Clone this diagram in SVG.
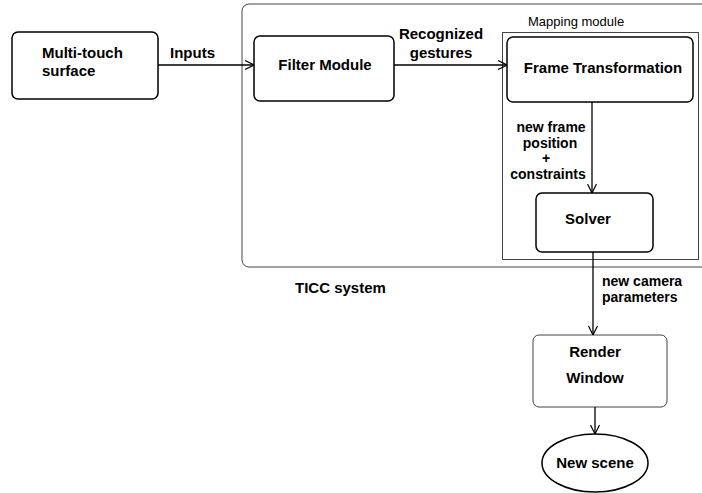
<svg xmlns="http://www.w3.org/2000/svg" width="702" height="493" viewBox="0 0 702 493">
<defs>
<style>
text{font-family:"Liberation Sans",Arial,sans-serif;fill:#000;}
.b{font-weight:bold;font-size:15px;}
.s{font-weight:bold;font-size:14px;}
.n{font-size:13px;}
.node{fill:#fff;stroke:#000;stroke-width:1.5;}
.thin{fill:#fff;stroke:#444;stroke-width:1;}
.cont{fill:none;stroke:#444;stroke-width:1;}
.edge{fill:none;stroke:#000;stroke-width:1.3;marker-end:url(#arr);}
</style>
<marker id="arr" viewBox="0 0 10 10" refX="10" refY="5" markerWidth="10" markerHeight="10" markerUnits="userSpaceOnUse" orient="auto">
<path d="M1,0.5 L10,5 L1,9.5" fill="none" stroke="#000" stroke-width="1.2"/>
</marker>
</defs>
<rect width="702" height="493" fill="#fff"/>
<g id="ticc">
<rect class="cont" x="242" y="4" width="470" height="263" rx="7"/>
<text class="b" x="295" y="293">TICC system</text>
</g>
<g id="mapping">
<rect class="cont" x="502.5" y="32.5" width="196" height="227"/>
<text class="n" x="528" y="26">Mapping module</text>
</g>
<g id="multitouch">
<rect class="node" x="12" y="32" width="146" height="67" rx="6"/>
<text class="b" x="42" y="58">Multi-touch</text>
<text class="b" x="42" y="76">surface</text>
</g>
<g id="filter">
<rect class="node" x="254" y="36" width="140" height="65" rx="6"/>
<text class="b" x="325" y="70" text-anchor="middle">Filter Module</text>
</g>
<g id="frame">
<rect class="node" x="507" y="37" width="186" height="65" rx="6"/>
<text class="b" x="603" y="73" text-anchor="middle">Frame Transformation</text>
</g>
<g id="solver">
<rect class="node" x="536" y="193" width="117" height="59" rx="6"/>
<text class="b" x="588" y="224" text-anchor="middle">Solver</text>
</g>
<g id="render">
<rect class="thin" x="533" y="335" width="134" height="72" rx="6"/>
<text class="b" x="595" y="357" text-anchor="middle">Render</text>
<text class="b" x="595" y="383" text-anchor="middle">Window</text>
</g>
<g id="scene">
<ellipse class="node" cx="595" cy="463" rx="53" ry="29"/>
<text class="b" x="595" y="468" text-anchor="middle">New scene</text>
</g>
<g id="connectors">
<path class="edge" d="M158,65 H254"/>
<path class="edge" d="M394,65 H507"/>
<path class="edge" d="M592,102 V193"/>
<path class="edge" d="M593,252 V335"/>
<path class="edge" d="M595,407 V434"/>
<text class="b" x="170" y="58">Inputs</text>
<text class="b" x="441" y="39" text-anchor="middle">Recognized</text>
<text class="b" x="441" y="58" text-anchor="middle">gestures</text>
<text class="s" x="551" y="132" text-anchor="middle">new frame</text>
<text class="s" x="550" y="148" text-anchor="middle">position</text>
<text class="s" x="546" y="163" text-anchor="middle">+</text>
<text class="s" x="548" y="179" text-anchor="middle">constraints</text>
<text class="s" x="602" y="286">new camera</text>
<text class="s" x="602" y="302">parameters</text>
</g>
</svg>
